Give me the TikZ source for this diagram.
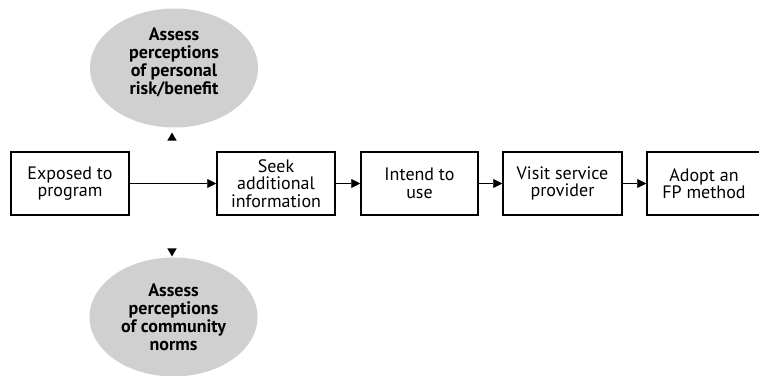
\documentclass[tikz,border=0pt]{standalone}
\usepackage{fontspec}
\setmainfont{PT Sans}
\usetikzlibrary{shapes, positioning, arrows.meta}
\definecolor{ovalgray}{HTML}{D0D0D0}

\begin{document}
\begin{tikzpicture}[x=1pt, y=1pt,
        stagebox/.style={draw, line width=1.5pt, minimum width=118pt, minimum height=63pt, inner sep=0, align=center, font=\fontsize{18}{17.5}\selectfont},
        percoval/.style={ellipse, fill=ovalgray, minimum width=168pt, minimum height=119pt, inner sep=0, align=center, font=\fontsize{18}{18}\selectfont\bfseries},
        marker/.style={regular polygon, regular polygon sides=3, fill=black, minimum size=11pt, inner sep=0},
        flow/.style={-{Triangle[length=9pt, width=9pt]}, line width=0.9pt}]
    \useasboundingbox (0,0) rectangle (759,375);

    % stages of adoption
    \node[stagebox] (exposed) at (70, 191.5) {Exposed to \\ program};
    \node[stagebox] (seek) at (276, 191.5) {Seek \\ additional \\ information};
    \node[stagebox, minimum width=117pt] (intend) at (419.5, 191.5) {Intend to \\ use};
    \node[stagebox, minimum width=119pt] (visit) at (562.5, 191.5) {Visit service \\ provider};
    \node[stagebox, minimum width=114pt] (adopt) at (704, 191.5) {Adopt an \\ FP method};

    \draw[flow] (exposed) -- (seek);
    \draw[flow] (seek) -- (intend);
    \draw[flow] (intend) -- (visit);
    \draw[flow] (visit) -- (adopt);

    % perception ovals
    \node[percoval, text depth=14pt] (personal) at (174, 307) {Assess \\ perceptions \\ of personal \\ risk/benefit};
    \node[percoval] (community) at (173.5, 58) {Assess \\ perceptions \\ of community \\ norms};

    \node[marker] (upmark) at (172, 237) {};
    \node[marker, rotate=180] (downmark) at (172, 124) {};
\end{tikzpicture}
\end{document}
